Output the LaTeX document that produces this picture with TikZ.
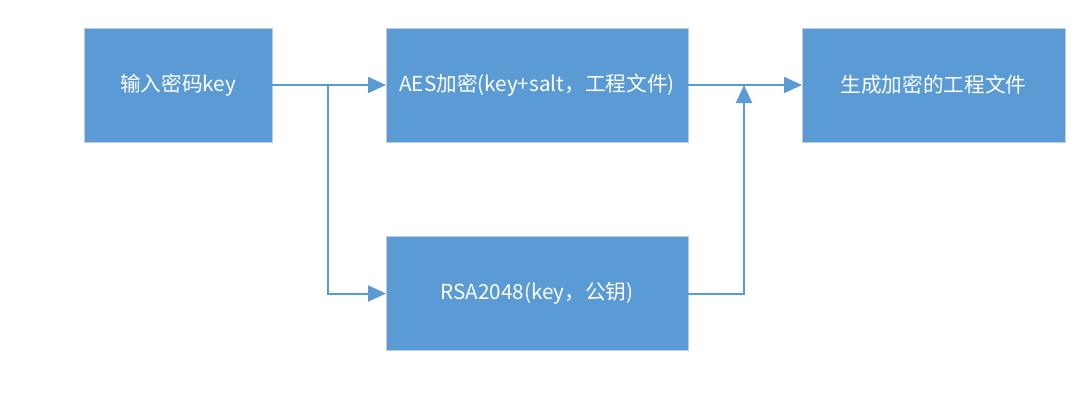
\documentclass[tikz,border=0pt]{standalone}
\usepackage{fontspec}
\setmainfont{Noto Sans CJK SC}
\usetikzlibrary{arrows.meta}
\definecolor{boxblue}{HTML}{5B9BD5}
\definecolor{boxedge}{HTML}{BFCBDA}
\tikzset{
	blk/.style={draw=boxedge, line width=0.75pt, fill=boxblue, text=white, inner sep=0pt, outer sep=0pt, minimum height=85.5pt},
	flow/.style={draw=boxblue, line width=1.5pt, -{Triangle[length=13.5pt, width=12pt]}},
}
\begin{document}
\begin{tikzpicture}[x=0.75pt, y=-0.75pt, font=\fontsize{15.5}{18}\selectfont, line join=miter]
		\useasboundingbox (0,0) rectangle (1080,401);
		\node[blk, minimum width=141pt] (key) at (178,85) {输入密码key};
		\node[blk, minimum width=226.5pt] (aes) at (537,85) {AES加密(key+salt，工程文件)};
		\node[blk, minimum width=197.25pt] (out) at (933.5,85) {生成加密的工程文件};
		\node[blk, minimum width=226.5pt] (rsa) at (537,293.5) {RSA2048(key，公钥)};
		\coordinate (split) at (328,85);
		\coordinate (join) at (744,85);
		\draw[flow] (key) -- (aes);
		\draw[flow] (split) |- (rsa);
		\draw[flow] (aes) -- (out);
		\draw[flow] (rsa) -| (join);
\end{tikzpicture}
\end{document}
